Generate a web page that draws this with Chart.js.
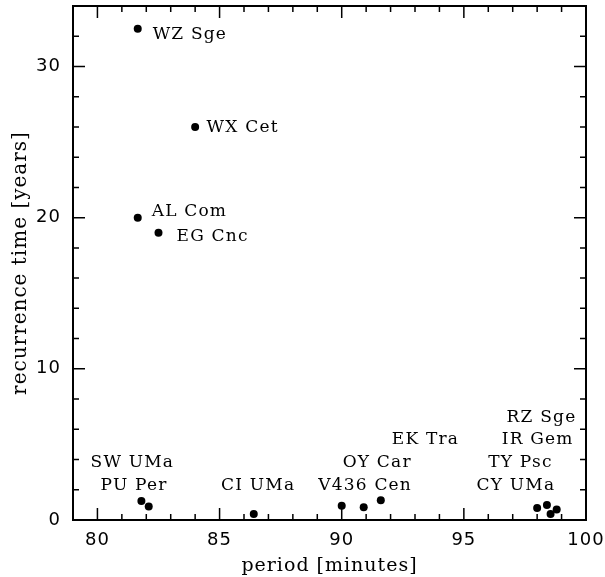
<!DOCTYPE html>
<html>
<head>
<meta charset="utf-8">
<script src="https://cdn.jsdelivr.net/npm/chart.js@4.4.0/dist/chart.umd.min.js"></script>
<style>
  html, body { margin: 0; padding: 0; background: #fff; }
</style>
</head>
<body>
<canvas id="recurrenceChart" width="605" height="577"></canvas>
<script>
// dwarf novae: orbital period vs. superoutburst recurrence time
const starNames = [
    'WZ Sge', 'WX Cet', 'AL Com', 'EG Cnc',
    'SW UMa', 'PU Per', 'CI UMa', 'V436 Cen',
    'OY Car', 'EK Tra', 'CY UMa', 'TY Psc',
    'IR Gem', 'RZ Sge',
];
const periods = [81.65, 84.0, 81.65, 82.5, 81.8, 82.1, 86.4, 90.0, 90.9, 91.6, 98.0, 98.4, 98.55, 98.8];
const recurrence = [32.5, 26.0, 20.0, 19.0, 1.25, 0.9, 0.4, 0.95, 0.85, 1.3, 0.8, 1.0, 0.4, 0.7];

// where each name is written (left edge, vertical centre) in data units
const labelX = [82.26, 84.47, 82.22, 83.24, 79.72, 80.13, 85.06, 89.04, 90.04, 92.05, 95.52, 96.0, 96.55, 96.75];
const labelY = [32.08, 25.93, 20.39, 18.78, 3.82, 2.31, 2.31, 2.31, 3.82, 5.29, 2.31, 3.82, 5.29, 6.79];

const xTicks = [80, 85, 90, 95, 100];
const yTicks = [0, 10, 20, 30];

// wider letter spacing, like the plotting font of the original
const spacing = {
    id: 'spacing',
    beforeDraw(chart) { chart.ctx.letterSpacing = '1px'; }
};

// box + inward ticks on all four sides
const frameTicks = {
    id: 'frameTicks',
    afterDraw(chart) {
        const { ctx, chartArea: a, scales: { x, y } } = chart;
        ctx.save();
        ctx.strokeStyle = '#000';
        ctx.lineWidth = 1.5;
        ctx.beginPath();
        for (let v = 79; v <= 100; v++) {
            const px = x.getPixelForValue(v);
            const len = v % 5 === 0 ? 12 : 6;
            ctx.moveTo(px, a.bottom); ctx.lineTo(px, a.bottom - len);
            ctx.moveTo(px, a.top); ctx.lineTo(px, a.top + len);
        }
        for (let v = 0; v <= 34; v += 2) {
            const py = y.getPixelForValue(v);
            const len = v % 10 === 0 ? 12 : 6;
            ctx.moveTo(a.left, py); ctx.lineTo(a.left + len, py);
            ctx.moveTo(a.right, py); ctx.lineTo(a.right - len, py);
        }
        ctx.stroke();
        ctx.lineWidth = 2;
        ctx.strokeRect(a.left, a.top, a.right - a.left, a.bottom - a.top);
        ctx.restore();
    }
};

const starLabels = {
    id: 'starLabels',
    afterDatasetsDraw(chart) {
        const { ctx, scales: { x, y } } = chart;
        ctx.save();
        ctx.fillStyle = '#000';
        ctx.font = '17px "DejaVu Serif"';
        ctx.letterSpacing = '1.2px';
        ctx.textAlign = 'left';
        ctx.textBaseline = 'middle';
        starNames.forEach((name, i) => {
            ctx.fillText(name, x.getPixelForValue(labelX[i]), y.getPixelForValue(labelY[i]));
        });
        ctx.restore();
    }
};

const points = periods.map((p, i) => ({ x: p, y: recurrence[i] }));

const recurrenceChart = new Chart(document.getElementById('recurrenceChart'), {
    type: 'scatter',
    data: {
        datasets: [{
            data: points,
            backgroundColor: '#000',
            borderWidth: 0,
            pointRadius: 4,
        }]
    },
    options: {
        responsive: false,
        animation: false,
        devicePixelRatio: 1,
        layout: { padding: { left: 9, right: 19, top: 6, bottom: 0 } },
        plugins: { legend: { display: false }, tooltip: { enabled: false } },
        scales: {
            x: {
                type: 'linear',
                min: 79,
                max: 100,
                grid: { display: false, drawTicks: false },
                border: { display: false },
                afterBuildTicks: s => { s.ticks = xTicks.map(v => ({ value: v })); },
                afterFit: s => { s.height = 57; s.paddingLeft = 0; s.paddingRight = 0; },
                ticks: {
                    color: '#000',
                    padding: 10,
                    maxRotation: 0,
                    font: { family: 'DejaVu Sans', size: 18 },
                },
                title: {
                    display: true,
                    text: 'period [minutes]',
                    color: '#000',
                    padding: 0,
                    font: { family: 'DejaVu Serif', size: 19 },
                },
            },
            y: {
                type: 'linear',
                min: 0,
                max: 34,
                grid: { display: false, drawTicks: false },
                border: { display: false },
                afterBuildTicks: s => { s.ticks = yTicks.map(v => ({ value: v })); },
                afterFit: s => { s.width = 64; s.paddingTop = 0; s.paddingBottom = 0; },
                ticks: {
                    color: '#000',
                    padding: 12,
                    font: { family: 'DejaVu Sans', size: 18 },
                },
                title: {
                    display: true,
                    text: 'recurrence time [years]',
                    color: '#000',
                    padding: 0,
                    font: { family: 'DejaVu Serif', size: 20 },
                },
            },
        },
    },
    plugins: [spacing, frameTicks, starLabels],
});
</script>
</body>
</html>
